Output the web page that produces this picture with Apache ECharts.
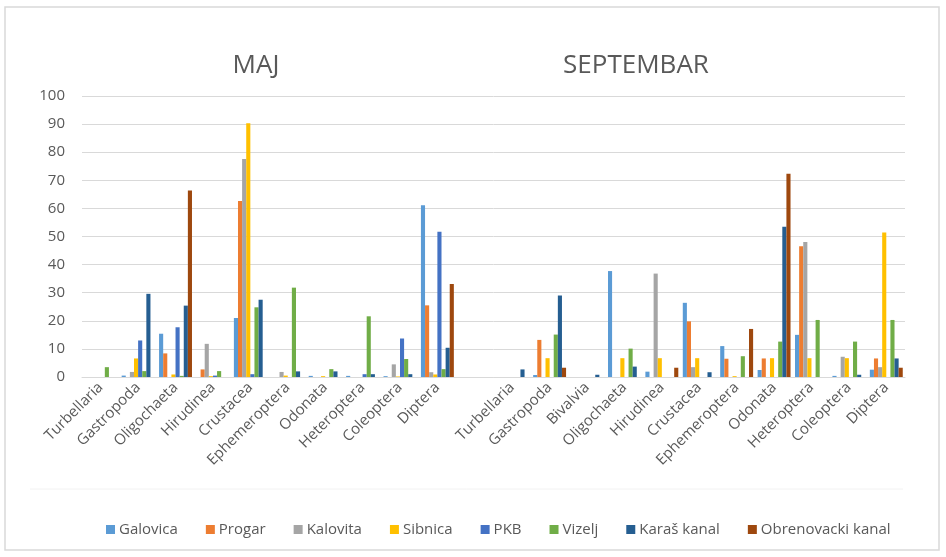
<!DOCTYPE html>
<html>
<head>
<meta charset="utf-8">
<script src="https://cdn.jsdelivr.net/npm/echarts@6/dist/echarts.min.js"></script>
<style>
  html, body { margin: 0; padding: 0; background: #fff; }
  #chart { width: 946px; height: 557px; }
</style>
</head>
<body>
<div id="chart"></div>
<script>
// categories: MAJ (10), an empty spacer, SEPTEMBAR (11)
const categories = [
  'Turbellaria', 'Gastropoda', 'Oligochaeta', 'Hirudinea', 'Crustacea',
  'Ephemeroptera', 'Odonata', 'Heteroptera', 'Coleoptera', 'Diptera',
  '',
  'Turbellaria', 'Gastropoda', 'Bivalvia', 'Oligochaeta', 'Hirudinea', 'Crustacea',
  'Ephemeroptera', 'Odonata', 'Heteroptera', 'Coleoptera', 'Diptera'
];
const yTicks = [0, 10, 20, 30, 40, 50, 60, 70, 80, 90, 100];

const galovica   = [0, 0.5, 15.4, 0, 21, 0, 0.4, 0.4, 0.3, 61.1,  0,  0, 0.7, 0, 37.7, 1.9, 26.4, 11, 2.5, 15, 0.4, 2.6];
const progar     = [0, 0, 8.4, 2.7, 62.6, 0, 0, 0, 0, 25.5,         0,  0, 13.2, 0, 0, 0, 19.8, 6.5, 6.6, 46.5, 0, 6.6];
const kalovita   = [0, 1.8, 0, 11.8, 77.6, 1.8, 0, 0, 4.5, 1.7,     0,  0, 0, 0, 0, 36.8, 3.5, 0, 0, 48, 7.2, 3.5];
const sibnica    = [0, 6.6, 0.9, 0.3, 90.3, 0.5, 0.3, 0, 0.2, 0.9,  0,  0, 6.7, 0, 6.7, 6.7, 6.7, 0.3, 6.7, 6.7, 6.7, 51.4];
const pkb        = [0, 13, 17.7, 0.5, 1, 0, 0, 1, 13.7, 51.7,       0,  0, 0, 0, 0, 0, 0, 0, 0, 0, 0, 0];
const vizelj     = [3.5, 2.1, 0.4, 2.1, 24.8, 31.8, 2.8, 21.6, 6.4, 2.8, 0, 0, 15.1, 0, 10.1, 0, 0, 7.4, 12.6, 20.3, 12.6, 20.3];
const karas      = [0, 29.6, 25.4, 0, 27.5, 2, 2, 1, 1, 10.4,       0,  2.7, 29, 0.8, 3.7, 0, 1.7, 0, 53.5, 0, 0.8, 6.6];
const obrenovac  = [0, 0, 66.4, 0, 0, 0, 0, 0, 0, 33.1,             0,  0, 3.3, 0, 0, 3.3, 0, 17.1, 72.3, 0, 0, 3.3];

const seriesNames = ['Galovica', 'Progar', 'Kalovita', 'Sibnica', 'PKB', 'Vizelj', 'Karaš kanal', 'Obrenovacki kanal'];
const seriesData = [galovica, progar, kalovita, sibnica, pkb, vizelj, karas, obrenovac];
const colors = ['#5B9BD5', '#ED7D31', '#A5A5A5', '#FFC000', '#4472C4', '#70AD47', '#255E91', '#9E480E'];

const font = '"Open Sans", sans-serif';
const txt = '#595959';

let chart = echarts.init(document.getElementById('chart'));
chart.setOption({
  animation: false,
  color: colors,
  title: [
    { text: 'MAJ', left: 251, top: 48, textAlign: 'center',
      textStyle: { color: txt, fontSize: 26, fontWeight: 'normal', fontFamily: font } },
    { text: 'SEPTEMBAR', left: 631, top: 48, textAlign: 'center',
      textStyle: { color: txt, fontSize: 26, fontWeight: 'normal', fontFamily: font } }
  ],
  graphic: [
    { type: 'rect', shape: { x: 5, y: 7, width: 934, height: 543 },
      style: { fill: 'none', stroke: '#D9D9D9', lineWidth: 1.5 }, silent: true },
    { type: 'line', shape: { x1: 30, y1: 489, x2: 903, y2: 489 },
      style: { stroke: '#F2F2F2', lineWidth: 1 }, silent: true }
  ],
  legend: {
    bottom: 15,
    left: 101,
    itemWidth: 9,
    itemHeight: 9,
    itemGap: 28,
    icon: 'rect',
    textStyle: { color: txt, fontSize: 15, fontFamily: font, padding: [0, 0, 0, -1] },
    data: seriesNames
  },
  grid: { left: 82, right: 41, top: 96, bottom: 180 },
  xAxis: {
    type: 'category',
    data: categories,
    axisLine: { lineStyle: { color: '#D9D9D9', width: 1 } },
    axisTick: { show: false },
    axisLabel: { interval: 0, rotate: 45, color: txt, fontSize: 15, fontFamily: font, margin: 8 }
  },
  yAxis: {
    type: 'value',
    min: yTicks[0],
    max: yTicks[yTicks.length - 1],
    interval: 10,
    axisLine: { show: false },
    axisTick: { show: false },
    splitLine: { lineStyle: { color: '#D9D9D9', width: 1 } },
    axisLabel: { color: txt, fontSize: 15, fontFamily: font, margin: 17 }
  },
  series: seriesNames.map((name, i) => ({
    name: name,
    type: 'bar',
    data: seriesData[i],
    barGap: '0%',
    barCategoryGap: '12%'
  }))
});
</script>
</body>
</html>
